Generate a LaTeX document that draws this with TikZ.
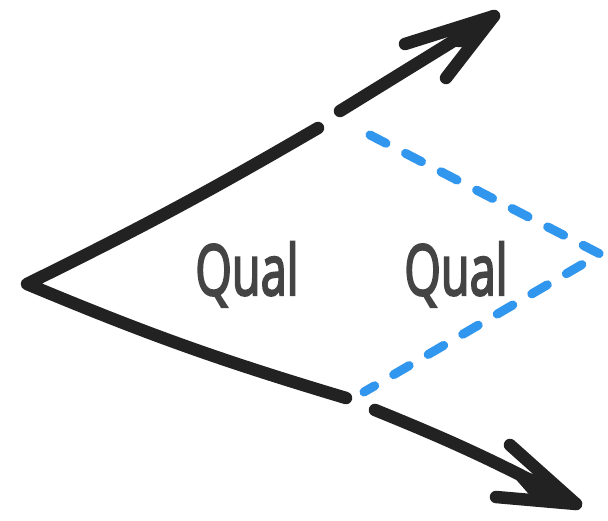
\documentclass[tikz,border=0pt]{standalone}
\usepackage{fontspec}
\setmainfont{Open Sans}
\newfontfamily\labelfont{Open Sans}[FakeBold=3.5]
\usetikzlibrary{calc}
\definecolor{ink}{HTML}{222222}
\definecolor{sky}{HTML}{3196EE}
\definecolor{labelgray}{HTML}{444444}
\tikzset{
  stroke/.style={draw=ink, line width=12.5pt, line cap=round, line join=round},
  headfill/.style={fill=ink, draw=ink, line width=8pt, line join=round},
  blueline/.style={draw=sky, line width=9pt, line cap=round, dash pattern=on 18pt off 22pt},
  word/.style={text=labelgray, font=\labelfont\fontsize{70}{70}\selectfont, inner sep=0pt, anchor=base}
}
\begin{document}
\begin{tikzpicture}[x=1pt, y=-1pt]
\useasboundingbox[fill=white] (0,0) rectangle (608,521);
% vertex and the two sides of the angle
\coordinate (v) at (27,284);
\coordinate (ua) at (318,128);
\coordinate (la) at (346,398);
\draw[stroke] (ua) to[bend left=2] (v) to[bend right=3] (la);
% upper arrow
\coordinate (us) at (340,111);
\coordinate (ut) at (494,16);
\coordinate (ub1) at (405,44);
\coordinate (ub2) at (446,78);
\draw[stroke] (us) -- (ut);
\draw[stroke] (ub1) -- (ut) -- (ub2);
\filldraw[headfill] (ut) -- ($(ut)!0.45!(ub1)$) -- ($(ut)!0.28!(us)$) -- ($(ut)!0.45!(ub2)$) -- cycle;
% lower arrow
\coordinate (ls) at (375,410);
\coordinate (lt) at (576,504);
\coordinate (lb1) at (510,445);
\coordinate (lb2) at (496,497);
\draw[stroke] (ls) to[bend left=3] (lt);
\draw[stroke] (lb1) -- (lt) -- (lb2);
\filldraw[headfill] (lt) -- ($(lt)!0.45!(lb1)$) -- ($(lt)!0.28!(ls)$) -- ($(lt)!0.45!(lb2)$) -- cycle;
% reflected angle, dashed
\coordinate (bu) at (370,135);
\coordinate (bc) at (600,254);
\coordinate (bl) at (364,392);
\draw[blueline] (bu) -- (bc) -- (bl);
% labels
\node[word] (q1) at (247,295) {\scalebox{0.67}[1]{Qual}};
\node[word] (q2) at (456,295) {\scalebox{0.67}[1]{Qual}};
\end{tikzpicture}
\end{document}
